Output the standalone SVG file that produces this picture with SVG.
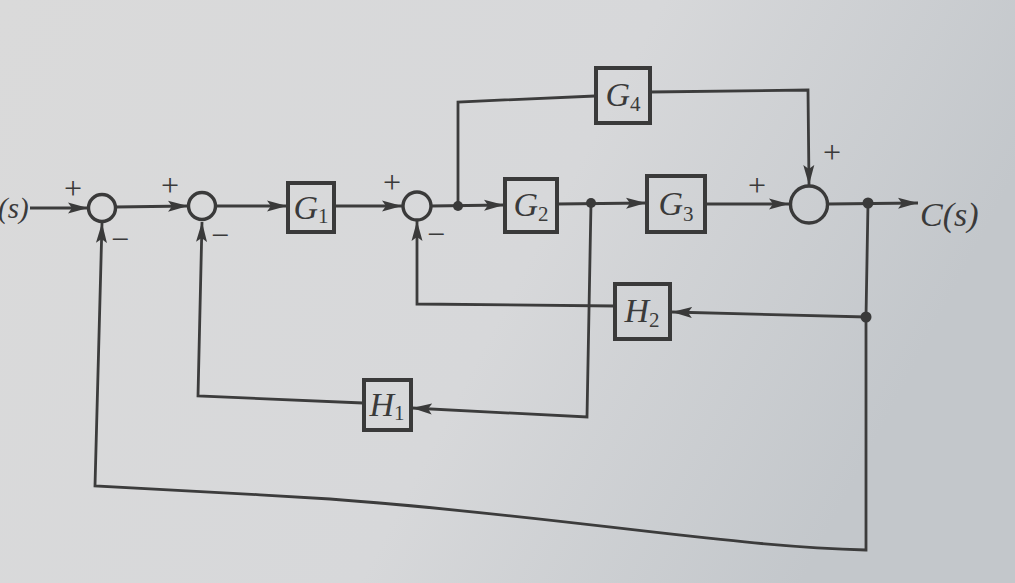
<svg xmlns="http://www.w3.org/2000/svg" width="1015" height="583" viewBox="0 0 1015 583">
<defs>
<linearGradient id="bg" x1="0" y1="0" x2="1" y2="0.3">
<stop offset="0" stop-color="#dadada"/>
<stop offset="0.6" stop-color="#d7d8da"/>
<stop offset="1" stop-color="#c3c7cb"/>
</linearGradient>
<marker id="arr" markerUnits="userSpaceOnUse" markerWidth="22" markerHeight="12" refX="20" refY="6" orient="auto">
<path d="M0,0.5 L20,6 L0,11.5 L4,6 Z" fill="#3a3a3a"/>
</marker>
</defs>
<style>
.ln{fill:none;stroke:#3c3c3c;stroke-width:2.8;stroke-linejoin:miter}
.box{fill:none;stroke:#3a3a3a;stroke-width:4}
.sum{fill:none;stroke:#3a3a3a;stroke-width:3.4}
.dot{fill:#3a3a3a}
.lbl{font-family:"Liberation Serif",serif;font-style:italic;font-size:34px;fill:#3a3a3a}
.sub{font-style:normal;font-size:21px}
.sg{font-family:"Liberation Serif",serif;font-size:32px;fill:#3a3a3a}
</style>
<rect x="0" y="0" width="1015" height="583" fill="url(#bg)"/>

<g id="connectors">
<path class="ln" d="M30,208 L88,208" marker-end="url(#arr)"/>
<path class="ln" d="M115,207 L188,206" marker-end="url(#arr)"/>
<path class="ln" d="M216,206 L287,206" marker-end="url(#arr)"/>
<path class="ln" d="M334,206 L402,206" marker-end="url(#arr)"/>
<path class="ln" d="M431,206 L504,205" marker-end="url(#arr)"/>
<path class="ln" d="M557,204 L646,203" marker-end="url(#arr)"/>
<path class="ln" d="M706,204 L789,204" marker-end="url(#arr)"/>
<path class="ln" d="M828,204 L918,203" marker-end="url(#arr)"/>
<path class="ln" d="M458,206 L458,102 L595,96"/>
<path class="ln" d="M650,92 L808,90 L809,185" marker-end="url(#arr)"/>
<path class="ln" d="M591,203 L587,417 L412,408" marker-end="url(#arr)"/>
<path class="ln" d="M363,403 L198,396 L202,222" marker-end="url(#arr)"/>
<path class="ln" d="M868,203 L866,317 L672,312" marker-end="url(#arr)"/>
<path class="ln" d="M615,306 L417,304 L417,221" marker-end="url(#arr)"/>
<path class="ln" d="M866,317 L866,550 C720,546 560,516 330,499 C250,494 160,489 95,486 L102,223" marker-end="url(#arr)"/>
<circle class="dot" cx="458" cy="206" r="5"/>
<circle class="dot" cx="591" cy="203" r="5"/>
<circle class="dot" cx="868" cy="203" r="5.5"/>
<circle class="dot" cx="866" cy="317" r="5.5"/>
</g>

<g id="input"><text x="-2" y="218" class="lbl" style="font-size:29px">(s)</text></g>
<g id="output"><text x="920" y="226" class="lbl">C(s)</text></g>

<g id="sum1"><circle class="sum" cx="102" cy="208" r="13.5"/><text class="sg" x="64" y="199">+</text><text class="sg" x="111" y="250">−</text></g>
<g id="sum2"><circle class="sum" cx="202" cy="206" r="13.5"/><text class="sg" x="161" y="196">+</text><text class="sg" x="211" y="246">−</text></g>
<g id="sum3"><circle class="sum" cx="417" cy="206" r="14"/><text class="sg" x="383" y="193">+</text><text class="sg" x="427" y="245">−</text></g>
<g id="sum4"><circle class="sum" cx="809" cy="204.5" r="18.5"/><text class="sg" x="748" y="196">+</text><text class="sg" x="823" y="163">+</text></g>

<g id="G1"><rect class="box" x="288" y="183" width="46" height="49"/><text class="lbl" x="311" y="219" text-anchor="middle">G<tspan class="sub" dy="4">1</tspan></text></g>
<g id="G2"><rect class="box" x="505" y="179" width="52" height="53"/><text class="lbl" x="531" y="216" text-anchor="middle">G<tspan class="sub" dy="5">2</tspan></text></g>
<g id="G3"><rect class="box" x="647" y="176" width="58" height="56"/><text class="lbl" x="676" y="215" text-anchor="middle">G<tspan class="sub" dy="6">3</tspan></text></g>
<g id="G4"><rect class="box" x="596" y="68" width="54" height="55"/><text class="lbl" x="623" y="106" text-anchor="middle">G<tspan class="sub" dy="5">4</tspan></text></g>
<g id="H1"><rect class="box" x="364" y="380" width="47" height="50"/><text class="lbl" x="387" y="416" text-anchor="middle">H<tspan class="sub" dy="4">1</tspan></text></g>
<g id="H2"><rect class="box" x="615" y="284" width="55" height="55"/><text class="lbl" x="642" y="322" text-anchor="middle">H<tspan class="sub" dy="5">2</tspan></text></g>
</svg>
